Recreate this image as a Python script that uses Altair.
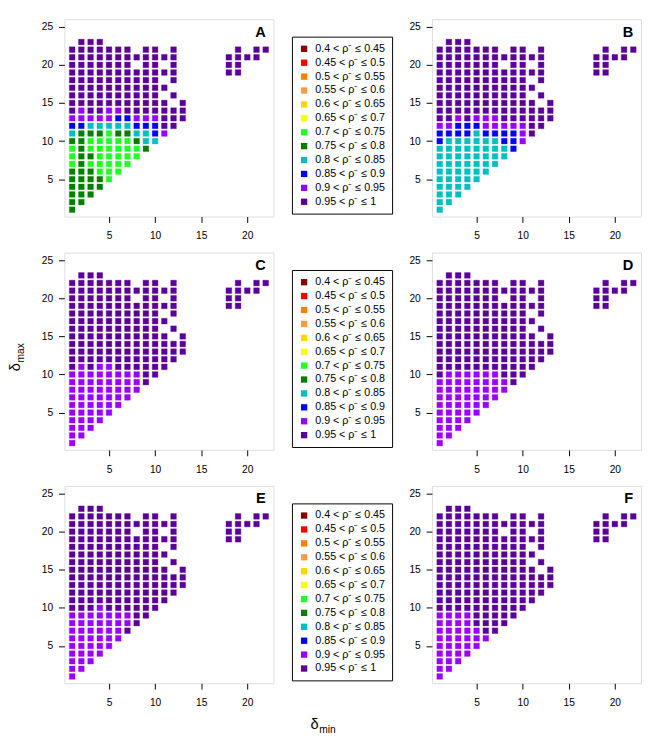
import altair as alt
import pandas as pd

FONT = "Liberation Sans"

# ---- categories (legend) ----
cat_labels = [
    "0.4 < ρ⁻ ≤ 0.45", "0.45 < ρ⁻ ≤ 0.5", "0.5 < ρ⁻ ≤ 0.55", "0.55 < ρ⁻ ≤ 0.6",
    "0.6 < ρ⁻ ≤ 0.65", "0.65 < ρ⁻ ≤ 0.7", "0.7 < ρ⁻ ≤ 0.75", "0.75 < ρ⁻ ≤ 0.8",
    "0.8 < ρ⁻ ≤ 0.85", "0.85 < ρ⁻ ≤ 0.9", "0.9 < ρ⁻ ≤ 0.95", "0.95 < ρ⁻ ≤ 1",
]
cat_colors = [
    "#8B0000", "#FF0000", "#FF8000", "#FF9A40", "#FFD700", "#FFFF00",
    "#22FF22", "#007F00", "#00BFBF", "#0000FF", "#9A00FF", "#5A0099",
]
cat_codes = "rRoOyYgGcbpP"  # one letter per category, same order

# ---- grid of (delta_min, delta_max) cells present ----
dmax_rows = [23, 22, 21, 20, 19, 18, 17, 16, 15, 14, 13, 12, 11, 10, 9, 8, 7, 6, 5, 4, 3, 2, 1]
dmin_rows = [
    [2, 3, 4],
    [1, 2, 3, 4, 5, 6, 7, 9, 10, 12, 19, 21, 22],
    [1, 2, 3, 4, 5, 6, 7, 8, 9, 10, 11, 12, 18, 19, 20, 21],
    [1, 2, 3, 4, 5, 6, 7, 9, 10, 12, 18, 19],
    [1, 2, 3, 4, 5, 6, 7, 8, 9, 10, 11, 12, 18, 19],
    [1, 2, 3, 4, 5, 6, 7, 8, 9, 10, 12],
    [1, 2, 3, 4, 5, 6, 7, 8, 9, 10, 11],
    [1, 2, 3, 4, 5, 6, 7, 8, 9, 10, 12],
    [1, 2, 3, 4, 5, 6, 7, 8, 9, 10, 11, 13],
    [1, 2, 3, 4, 5, 6, 7, 8, 9, 10, 11, 12, 13],
    [1, 2, 3, 4, 5, 6, 7, 8, 9, 10, 11, 12, 13],
    [1, 2, 3, 4, 5, 6, 7, 8, 9, 10, 11, 12],
    [1, 2, 3, 4, 5, 6, 7, 8, 9, 10, 11],
    [1, 2, 3, 4, 5, 6, 7, 8, 9, 10],
    [1, 2, 3, 4, 5, 6, 7, 8, 9],
    [1, 2, 3, 4, 5, 6, 7, 8],
    [1, 2, 3, 4, 5, 6, 7],
    [1, 2, 3, 4, 5, 6],
    [1, 2, 3, 4, 5],
    [1, 2, 3, 4],
    [1, 2, 3],
    [1, 2],
    [1],
]

# ---- per-panel category codes by delta_max row (rows not listed: default code) ----
panel_A_default = "P"
panel_A = {
    14: "PpPPppPPPPPPP", 13: "pppppbbpppPPP", 12: "bbcccccbbbPP", 11: "cGGGgGGccbp",
    10: "GGgggggGcc", 9: "gGggggggG", 8: "gGGggggg", 7: "gGggggg", 6: "GGGggg",
    5: "GGGGg", 4: "GGGG", 3: "GGG", 2: "GG", 1: "G",
}
panel_B_default = "P"
panel_B = {
    13: "PPpPpppPPPPPP", 12: "ppbbbpppppPP", 11: "bbbbcbbbbpP", 10: "bccccccbbp",
    9: "ccccccccb", 8: "cccccccc", 7: "ccccccc", 6: "cccccc", 5: "ccccc",
    4: "cccc", 3: "ccc", 2: "cc", 1: "c",
}
panel_C_default = "P"
panel_C = {
    11: "PpPppPPPPPP", 10: "ppppppppPP", 9: "ppppppppP", 8: "pppppppp", 7: "ppppppp",
    6: "pppppp", 5: "ppppp", 4: "pppp", 3: "ppp", 2: "pp", 1: "p",
}
panel_D_default = "P"
panel_D = {
    10: "PppppppPPP", 9: "ppppppppP", 8: "pppppppp", 7: "ppppppp",
    6: "pppppp", 5: "ppppp", 4: "pppp", 3: "ppp", 2: "pp", 1: "p",
}
panel_E_default = "P"
panel_E = {
    10: "PPPpPPPPPP", 9: "pppppppPP", 8: "pppppppP", 7: "ppppppP",
    6: "pppppp", 5: "ppppp", 4: "pppp", 3: "ppp", 2: "pp", 1: "p",
}
panel_F_default = "P"
panel_F = {
    9: "ppppPPPPP", 8: "ppppPPPP", 7: "pppppPP",
    6: "pppppp", 5: "ppppp", 4: "pppp", 3: "ppp", 2: "pp", 1: "p",
}

x_ticks = [5, 10, 15, 20]
y_ticks = [5, 10, 15, 20, 25]

W, H = 215, 203


def build(codes, default):
    recs = []
    for dmax, mins in zip(dmax_rows, dmin_rows):
        s = codes.get(dmax, default * len(mins))
        for dmin, ch in zip(mins, s):
            recs.append({"dmin": dmin, "dmax": dmax,
                         "cat": cat_labels[cat_codes.index(ch)]})
    return pd.DataFrame(recs)


xscale = alt.Scale(domain=[0.16, 22.84], nice=False, zero=False)
yscale = alt.Scale(domain=[0.1, 26.0], nice=False, zero=False)
cscale = alt.Scale(domain=cat_labels, range=cat_colors)

xaxis = alt.Axis(values=x_ticks, title=None, grid=False, domain=False, tickSize=6,
                 labelPadding=9, labelFontSize=10.5, labelFont=FONT, labelColor="black",
                 tickColor="black")
yaxis = alt.Axis(values=y_ticks, title=None, grid=False, domain=False, tickSize=6,
                 labelPadding=6, labelFontSize=10.5, labelFont=FONT, labelColor="black",
                 tickColor="black")


def panel(label, codes, default, show_legend, extra=None):
    df = build(codes, default)
    if show_legend:
        leg = alt.Legend(title=None, orient="none", legendX=234, legendY=18,
                         symbolType="square", symbolSize=42, symbolStrokeWidth=0,
                         symbolOpacity=1, labelFontSize=11, labelFont=FONT,
                         labelColor="black", rowPadding=2.3, padding=7,
                         strokeColor="black", fillColor="white", labelOffset=6,
                         labelLimit=200)
    else:
        leg = None
    sq = alt.Chart(df).mark_square(size=34, filled=True, opacity=1, strokeWidth=1,
                                   strokeOpacity=0.35).encode(
        x=alt.X("dmin:Q", scale=xscale, axis=xaxis),
        y=alt.Y("dmax:Q", scale=yscale, axis=yaxis),
        color=alt.Color("cat:N", scale=cscale, legend=leg),
        stroke=alt.Stroke("cat:N", scale=cscale, legend=None),
    )
    lab = alt.Chart(pd.DataFrame({"lab": [label]})).mark_text(
        align="right", baseline="alphabetic", fontSize=15, fontWeight="bold",
        font=FONT, color="black").encode(
        x=alt.value(W - 8), y=alt.value(18), text="lab:N")
    layers = [sq, lab]
    if extra is not None:
        layers += extra
    return alt.layer(*layers).properties(width=W, height=H)


# x-axis title (delta_min), drawn under panel E
xt1 = alt.Chart(pd.DataFrame({"t": ["δ"]})).mark_text(
    align="left", baseline="alphabetic", fontSize=15, font=FONT, color="black").encode(
    x=alt.value(253), y=alt.value(250), text="t:N")
xt2 = alt.Chart(pd.DataFrame({"t": ["min"]})).mark_text(
    align="left", baseline="alphabetic", fontSize=10.5, font=FONT, color="black").encode(
    x=alt.value(262), y=alt.value(254), text="t:N")

A = panel("A", panel_A, panel_A_default, True)
B = panel("B", panel_B, panel_B_default, False)
C = panel("C", panel_C, panel_C_default, True)
D = panel("D", panel_D, panel_D_default, False)
E = panel("E", panel_E, panel_E_default, True, extra=[xt1, xt2])
F = panel("F", panel_F, panel_F_default, False)


def indep(ch):
    return ch.resolve_scale(color="independent", stroke="independent").resolve_legend(
        color="independent", stroke="independent")


row1 = indep(alt.hconcat(A, B, spacing=15))
row2 = indep(alt.hconcat(C, D, spacing=15))
row3 = indep(alt.hconcat(E, F, spacing=15))
rows = indep(alt.vconcat(row1, row2, row3, spacing=10))

# y-axis title (delta_max)
yt1 = alt.Chart(pd.DataFrame({"t": ["δ"]})).mark_text(
    align="left", baseline="alphabetic", fontSize=15, font=FONT, color="black",
    angle=270).encode(x=alt.value(12), y=alt.value(362), text="t:N")
yt2 = alt.Chart(pd.DataFrame({"t": ["max"]})).mark_text(
    align="left", baseline="alphabetic", fontSize=10.5, font=FONT, color="black",
    angle=270).encode(x=alt.value(16), y=alt.value(353), text="t:N")
ylab = alt.layer(yt1, yt2).properties(width=16, height=700,
                                      view=alt.ViewBackground(strokeWidth=0))

chart = indep(alt.hconcat(ylab, rows, spacing=14)).properties(padding=0).configure_view(
    stroke="black", strokeWidth=1).configure(background="white")

chart.save("out.html", embed_options={"renderer": "svg", "actions": False})
